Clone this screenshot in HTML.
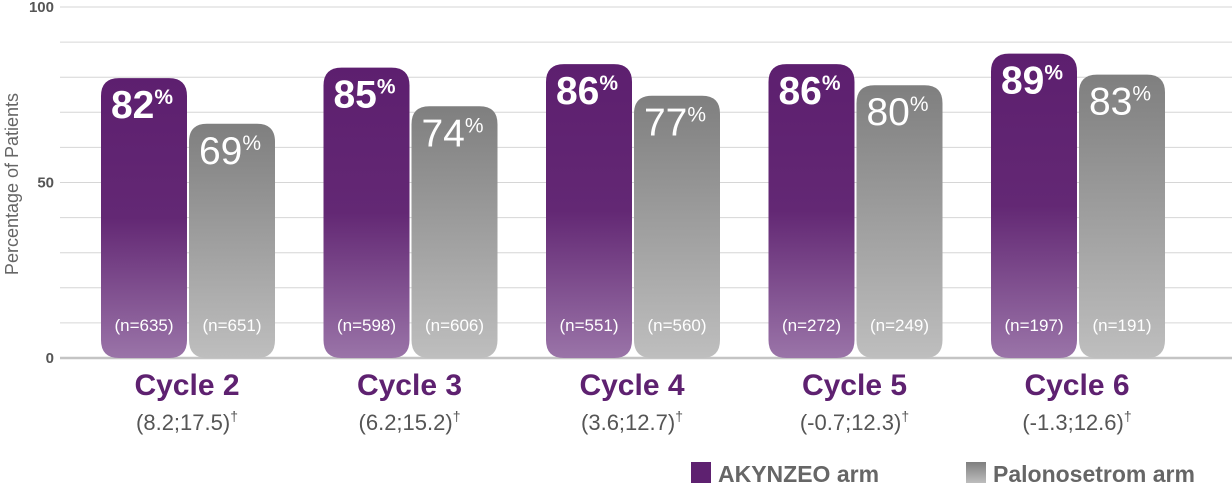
<!DOCTYPE html>
<html><head><meta charset="utf-8"><style>
body{margin:0;background:#fff;}
svg{display:block;font-family:"Liberation Sans",Arial,sans-serif;}
</style></head><body>
<svg id="chart" width="1232" height="488">
<defs>
<linearGradient id="gp" x1="0" y1="0" x2="0" y2="1"><stop offset="0" stop-color="#5d1f6f"/><stop offset="0.5" stop-color="#632874"/><stop offset="1" stop-color="#9a74a8"/></linearGradient>
<linearGradient id="gg" x1="0" y1="0" x2="0" y2="1"><stop offset="0" stop-color="#7f7f7f"/><stop offset="1" stop-color="#bebebe"/></linearGradient>
</defs>
<g id="grid"></g><g id="bars"></g>
<text transform="translate(18,184) rotate(-90)" text-anchor="middle" font-size="18" fill="#666">Percentage of Patients</text>
<g>
<rect x="691" y="462" width="20" height="21" fill="#5e2170"/>
<text x="718" y="482" font-size="23" font-weight="bold" fill="#666">AKYNZEO arm</text>
<rect x="966" y="462" width="20" height="21" fill="url(#gg)"/>
<text x="993" y="482" font-size="23" font-weight="bold" fill="#666">Palonosetrom arm</text>
</g>
</svg>
<script>
const categories=["Cycle 2","Cycle 3","Cycle 4","Cycle 5","Cycle 6"];
const ciLabels=["(8.2;17.5)","(6.2;15.2)","(3.6;12.7)","(-0.7;12.3)","(-1.3;12.6)"];
const akynzeo=[82,85,86,86,89];
const palono=[69,74,77,80,83];
const nAkynzeo=[635,598,551,272,197];
const nPalono=[651,606,560,249,191];
const yTicks=[0,50,100];
const NS="http://www.w3.org/2000/svg";
function y(v){return 358-v*3.51;}
function gx(i){return 101+i*222.5;}
function mk(tag,attrs,parent){const e=document.createElementNS(NS,tag);for(const k in attrs)e.setAttribute(k,attrs[k]);parent.appendChild(e);return e;}
const grid=document.getElementById('grid'),bars=document.getElementById('bars'),svg=document.getElementById('chart');
for(let v=0;v<=100;v+=10){
const l=mk('line',{x1:60,x2:1232,y1:y(v),y2:y(v),stroke:v===0?'#c4c4c4':'#d6d6d6','stroke-width':v===0?2.5:1},grid);


}
yTicks.forEach(v=>{
const t=mk('text',{x:54,y:y(v)+5,'text-anchor':'end','font-size':15,'font-weight':'bold',fill:'#555'},svg);
t.textContent=v;


});
function bar(x,v,fill,bold,n,name){
const top=y(v)+8,w=86;
const r=mk('path',{d:`M${x},${top+18} Q${x},${top} ${x+18},${top} L${x+w-18},${top} Q${x+w},${top} ${x+w},${top+18} L${x+w},${358-18} Q${x+w},358 ${x+w-18},358 L${x+18},358 Q${x},358 ${x},${358-18} Z`,fill:fill},bars);


const t=mk('text',{x:x+w/2-2,y:top+40,'text-anchor':'middle',fill:'#fff','font-size':39,'font-weight':bold?'bold':'normal'},bars);


t.textContent=v;
const s=mk('tspan',{'font-size':21,dy:-14},t);s.textContent='%';
const nt=mk('text',{x:x+w/2,y:331,'text-anchor':'middle',fill:'#fff','font-size':17},bars);


nt.textContent='(n='+n+')';
}
categories.forEach((c,i)=>{
const x=gx(i);
bar(x,akynzeo[i],'url(#gp)',true,nAkynzeo[i],'bar-akynzeo-'+(i+2));
bar(x+88,palono[i],'url(#gg)',false,nPalono[i],'bar-palonosetron-'+(i+2));
const ct=mk('text',{x:x+86,y:395,'text-anchor':'middle','font-size':30,'font-weight':'bold',fill:'#5e2170'},svg);


ct.textContent=c;
const ci=mk('text',{x:x+86,y:430,'text-anchor':'middle','font-size':22,fill:'#555'},svg);


ci.textContent=ciLabels[i];
const d=mk('tspan',{'font-size':14,dy:-9},ci);d.textContent='†';
});
</script>
</body></html>
